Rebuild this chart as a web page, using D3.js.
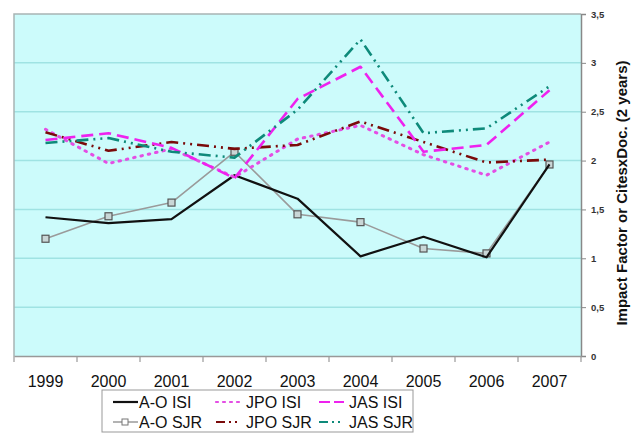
<!DOCTYPE html>
<html><head><meta charset="utf-8">
<script src="https://cdn.jsdelivr.net/npm/d3@7"></script>
<style>body{margin:0;background:#fff}svg{display:block;font-family:"Liberation Sans",Arial,sans-serif}</style>
</head><body><svg id="c" width="640" height="433"></svg>
<script>
const years = ["1999","2000","2001","2002","2003","2004","2005","2006","2007"];
const aoISI  = [1.42,1.36,1.40,1.85,1.61,1.02,1.22,1.01,1.96];
const aoSJR  = [1.20,1.43,1.57,2.09,1.45,1.37,1.10,1.05,1.96];
const jpoISI = [2.32,1.97,2.12,1.83,2.22,2.36,2.06,1.85,2.19];
const jpoSJR = [2.29,2.10,2.19,2.12,2.16,2.40,2.19,1.98,2.01];
const jasISI = [2.21,2.28,2.13,1.82,2.63,2.96,2.09,2.16,2.72];
const jasSJR = [2.18,2.23,2.09,2.03,2.52,3.24,2.28,2.33,2.76];
const yTicks = [0,0.5,1,1.5,2,2.5,3,3.5];
const yTickLabels = ["0","0,5","1","1,5","2","2,5","3","3,5"];
const seriesNames = ["A-O ISI","JPO ISI","JAS ISI","A-O SJR","JPO SJR","JAS SJR"];

const series = [
  {name:"A-O ISI", values:aoISI, color:"#111111", dash:null, width:2.2},
  {name:"A-O SJR", values:aoSJR, color:"#9a9a9a", dash:null, width:1.6, marker:true},
  {name:"JPO ISI", values:jpoISI, color:"#e44ee4", dash:"1.5,6", width:3, cap:"round"},
  {name:"JPO SJR", values:jpoSJR, color:"#7a0a0a", dash:"12,5,2,5,2,5", width:2.6},
  {name:"JAS ISI", values:jasISI, color:"#ee22ee", dash:"12,6", width:2.6},
  {name:"JAS SJR", values:jasSJR, color:"#0e8a7a", dash:"12,5,2,5,2,5", width:2.6}
];

const svg = d3.select("#c");
const L=14, R=581, T=14, B=356;
const x = d3.scaleBand().domain(years).range([L,R]);
const y = d3.scaleLinear().domain([0,3.5]).range([B,T]);

svg.append("rect").attr("x",L).attr("y",T).attr("width",R-L).attr("height",B-T).attr("fill","#ccfbfb");
svg.append("g").selectAll("line").data(yTicks.slice(1,-1)).join("line")
  .attr("x1",L).attr("x2",R).attr("y1",d=>y(d)).attr("y2",d=>y(d))
  .attr("stroke","#9fe3e3").attr("stroke-width",1.5);
svg.append("path").attr("d",`M${L},${B}V${T}H${R}`).attr("fill","none").attr("stroke","#a8b4b4").attr("stroke-width",1.5);

const yAxis = d3.axisRight(y).tickValues(yTicks).tickFormat((d,i)=>yTickLabels[i]).tickSize(5).tickPadding(5);
const gy = svg.append("g").attr("transform",`translate(${R},0)`).call(yAxis);
gy.select(".domain").attr("stroke","#888").attr("stroke-width",1.5);
gy.selectAll(".tick line").attr("stroke","#888");
gy.selectAll("text").attr("font-size",9.5).attr("font-weight","bold").attr("fill","#333");

const xAxis = d3.axisBottom(x).tickSize(0).tickPadding(20);
const gx = svg.append("g").attr("transform",`translate(0,${B})`).call(xAxis);
gx.select(".domain").attr("stroke","#999").attr("stroke-width",1.5);
gx.selectAll("text").attr("font-size",16).attr("fill","#111");
const bounds = years.map(d=>x(d)).concat([R]);
svg.append("g").selectAll("line").data(bounds).join("line")
  .attr("x1",d=>d).attr("x2",d=>d).attr("y1",B).attr("y2",B+6)
  .attr("stroke","#999").attr("stroke-width",1.2);

svg.append("text").attr("transform",`translate(627,${(T+B)/2+8}) rotate(-90)`)
  .attr("text-anchor","middle").attr("font-size",15).attr("font-weight","bold").attr("fill","#111")
  .text("Impact Factor or CitesxDoc. (2 years)");

const line = d3.line().x((d,i)=>x(years[i])+x.bandwidth()/2).y(d=>y(d));
const order = ["A-O SJR","A-O ISI","JPO ISI","JPO SJR","JAS ISI","JAS SJR"];
order.forEach(n=>{
  const s = series.find(q=>q.name===n);
  svg.append("path").datum(s.values).attr("d",line).attr("fill","none")
    .attr("stroke",s.color).attr("stroke-width",s.width)
    .attr("stroke-dasharray",s.dash).attr("stroke-linecap",s.cap||"butt").attr("stroke-linejoin","round");
  if(s.marker){
    svg.append("g").selectAll("rect").data(s.values).join("rect")
      .attr("x",(d,i)=>x(years[i])+x.bandwidth()/2-3.5).attr("y",d=>y(d)-3.5)
      .attr("width",7).attr("height",7).attr("fill","#c9d6d6").attr("stroke","#555").attr("stroke-width",1.2);
  }
});

const lg = svg.append("g");
lg.append("rect").attr("x",102).attr("y",390).attr("width",311).attr("height",42)
  .attr("fill","#fff").attr("stroke","#999").attr("stroke-width",1);
const cols=[113,216,319], rows=[402,422];
seriesNames.forEach((n,i)=>{
  const s = series.find(q=>q.name===n);
  const cx = cols[i%3], cy = rows[Math.floor(i/3)];
  lg.append("line").attr("x1",cx).attr("x2",cx+25).attr("y1",cy).attr("y2",cy)
    .attr("stroke",s.color).attr("stroke-width",s.marker?1.5:2.2)
    .attr("stroke-dasharray", s.dash ? (n==="JAS ISI"?"11,4":n==="JPO ISI"?"2,5":"9,4,2,4,2,4") : null)
    .attr("stroke-linecap",s.cap||"butt");
  if(s.marker) lg.append("rect").attr("x",cx+9).attr("y",cy-3).attr("width",6).attr("height",6)
    .attr("fill","#fff").attr("stroke","#777");
  lg.append("text").attr("x",cx+(i%3===0?26:30)).attr("y",cy+6).attr("font-size",16).attr("fill","#111").text(n);
});
</script></body></html>
